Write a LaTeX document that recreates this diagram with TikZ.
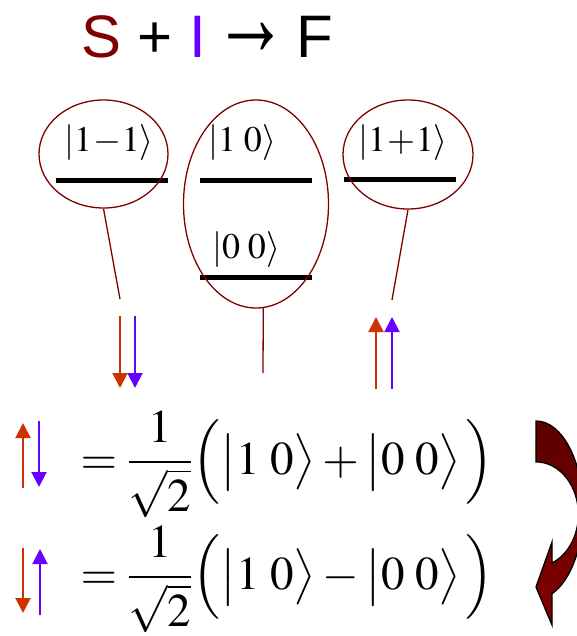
\documentclass[tikz,border=0pt]{standalone}
\usepackage{amsmath}
\usepackage{mathptmx}
\usepackage{fontspec}
\setmainfont{Liberation Serif}
\newfontfamily\titlefont{Liberation Sans}
\usetikzlibrary{shapes.geometric,arrows.meta,positioning}
\definecolor{maroon}{RGB}{128,0,0}
\definecolor{spinS}{RGB}{204,51,0}
\definecolor{spinI}{RGB}{102,0,255}
\definecolor{swapTop}{RGB}{92,0,0}
\definecolor{swapBot}{RGB}{130,0,0}
\newcommand{\ketv}[1]{\lvert#1\rangle}
\newcommand{\ketb}[1]{\bigl|#1\bigr\rangle}

\begin{document}
\begin{tikzpicture}[x=1pt, y=-1pt,
    group/.style={draw=maroon, ellipse, line width=1.3pt, inner sep=0pt},
    level/.style={fill=black, inner sep=0pt, minimum width=112pt, minimum height=5pt},
    ketlabel/.style={font=\fontsize{36}{40}\selectfont},
    link/.style={draw=maroon, line width=1.3pt},
    spin/.style={line width=2pt, -{Triangle[width=15pt,length=15pt]}},
    eq/.style={anchor=base west, font=\fontsize{47}{54}\selectfont}
]
\useasboundingbox (0,0) rectangle (576,636);

% Title
\node[font=\titlefont\fontsize{60}{66}\selectfont, anchor=base west, inner sep=0pt]
  (title) at (81,58)
  {\textcolor{maroon}{S} + \textcolor{spinI}{I}\hspace{-9pt}
   \raisebox{2pt}{\scalebox{1.25}[1.9]{→}}\hspace{-9pt} F};

% Energy levels of F
\node[level] (lvm) at (112,181) {};
\node[level] (lvt) at (256,181) {};
\node[level] (lvs) at (256,277) {};
\node[level] (lvp) at (400,180) {};

\node[ketlabel] (km) at (109,143) {$\ketv{1\!-\!1}$};
\node[ketlabel] (kt) at (242,143) {$\ketv{1\;0}$};
\node[ketlabel] (ks) at (246,250) {$\ketv{0\;0}$};
\node[ketlabel] (kp) at (403,143) {$\ketv{1\!+\!1}$};

\node[group, minimum width=129pt, minimum height=108pt] (gm) at (103.5,154) {};
\node[group, minimum width=145pt, minimum height=208pt] (gz) at (256,204) {};
\node[group, minimum width=130pt, minimum height=109pt] (gp) at (408,154.5) {};

% links down to the spin pairs
\coordinate (em) at (120,299);
\coordinate (ez) at (263,373);
\coordinate (ep) at (392,300);
\draw[link] (gm.south) -- (em);
\draw[link] (gz.-86) -- (ez);
\draw[link] (gp.south) -- (ep);

\foreach \x/\col/\a/\b in {120/spinS/316/388, 135/spinI/316/388,
                           376/spinS/389/317, 392/spinI/389/317}
  \draw[spin, \col] (\x,\a) -- (\x,\b);

% Mixed states
\foreach \x/\col/\a/\b in {23/spinS/488/423, 39/spinI/421/487,
                           23/spinS/548/613, 40/spinI/615/549}
  \draw[spin, \col] (\x,\a) -- (\x,\b);

\node[eq] (eqa) at (77,474)
  {$=\dfrac{1}{\sqrt{2}}\Bigl(\ketb{1\;0}+\ketb{0\;0}\,\Bigr)$};
\node[eq] (eqb) at (77,589)
  {$=\dfrac{1}{\sqrt{2}}\Bigl(\ketb{1\;0}-\ketb{0\;0}\,\Bigr)$};

% swap arrow at the edge
\draw[line width=1.3pt, top color=swapTop, bottom color=swapBot]
  (536,421) arc[start angle=-90, end angle=70.1, x radius=47, y radius=89]
  -- (552,603) -- (552,625) -- (536,587) -- (552,542) -- (552,563)
  arc[start angle=67.8, end angle=-90, x radius=42.4, y radius=52.5] -- cycle;
\end{tikzpicture}
\end{document}
